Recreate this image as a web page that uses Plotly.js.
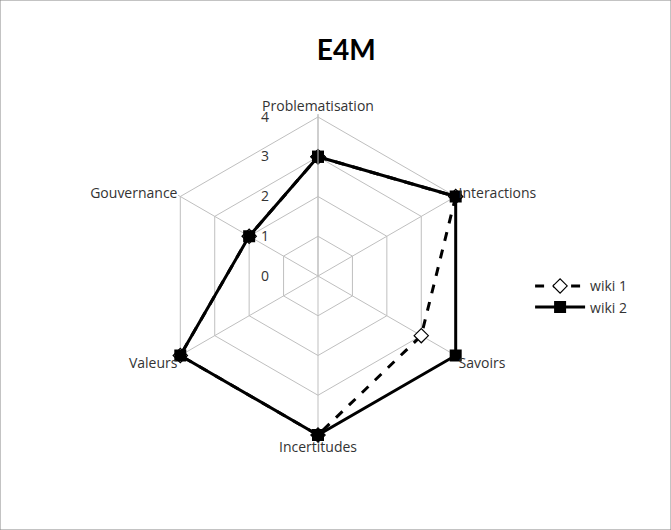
<!DOCTYPE html>
<html>
<head>
<meta charset="utf-8">
<script src="https://cdn.plot.ly/plotly-3.0.1.min.js"></script>
<style>
  html, body { margin: 0; padding: 0; background: #fff; }
  #chart { width: 671px; height: 530px; }
</style>
</head>
<body>
<div id="chart"></div>
<script>
// Axes of the radar, clockwise from the top
const categories = ['Problematisation', 'Interactions', 'Savoirs', 'Incertitudes', 'Valeurs', 'Gouvernance'];
const wiki1 = [3, 4, 3, 4, 4, 2];
const wiki2 = [3, 4, 4, 4, 4, 2];
const radialTicks = [0, 1, 2, 3, 4];

// close the polygons
const closeLoop = arr => arr.concat([arr[0]]);

const traces = [
    {
        type: 'scatterpolar',
        name: 'wiki 1',
        r: closeLoop(wiki1),
        theta: closeLoop(categories),
        mode: 'lines+markers',
        line: { color: '#000', width: 3, dash: 'dash' },
        marker: { symbol: 'diamond', size: 11, color: '#fff', line: { color: '#000', width: 1.2 } },
        cliponaxis: false
    },
    {
        type: 'scatterpolar',
        name: 'wiki 2',
        r: closeLoop(wiki2),
        theta: closeLoop(categories),
        mode: 'lines+markers',
        line: { color: '#000', width: 3 },
        marker: { symbol: 'square', size: 12, color: '#000' },
        cliponaxis: false
    }
];

// a little room beyond 4 so the thick lines on the outer ring are not clipped
const rMax = 4.07;
const R = 159 * rMax / 4;
const cx = 318, cy = 276;

// tick labels sit to the left of the vertical spoke, like Excel
const pad = '\u00a0'.repeat(12);

const layout = {
    width: 671,
    height: 530,
    margin: { l: 0, r: 0, t: 0, b: 0 },
    paper_bgcolor: '#fff',
    font: { family: '"Open Sans", sans-serif', size: 13, color: '#404040' },
    title: {
        text: '<b>E4M</b>',
        x: 0.516, xanchor: 'center',
        y: 0.905, yanchor: 'middle',
        font: { size: 28, color: '#000', family: 'Lato, "Open Sans", sans-serif' }
    },
    polar: {
        domain: { x: [(cx - R) / 671, (cx + R) / 671], y: [(530 - cy - R) / 530, (530 - cy + R) / 530] },
        gridshape: 'linear',
        bgcolor: '#fff',
        radialaxis: {
            range: [0, rMax],
            tickvals: radialTicks,
            ticktext: radialTicks.map(v => v + pad),
            angle: 90,
            tickangle: 90,
            side: 'counterclockwise',
            showline: true,
            linecolor: '#bfbfbf',
            linewidth: 1,
            gridcolor: '#bfbfbf',
            gridwidth: 1,
            ticks: '',
            tickfont: { size: 14, color: '#333' }
        },
        angularaxis: {
            rotation: 90,
            direction: 'clockwise',
            showline: false,
            gridcolor: '#bfbfbf',
            ticks: '',
            tickfont: { size: 14, color: '#333' }
        }
    },
    showlegend: true,
    legend: {
        x: 0.79, xanchor: 'left',
        y: 0.44, yanchor: 'middle',
        font: { size: 14, color: '#333' },
        itemwidth: 50,
        tracegroupgap: 4
    },
    shapes: [
        {
            type: 'rect', xref: 'paper', yref: 'paper',
            x0: 0, x1: 1, y0: 0, y1: 1,
            line: { color: '#878787', width: 1 }
        }
    ]
};

Plotly.newPlot('chart', traces, layout, { displayModeBar: false, staticPlot: true });
</script>
</body>
</html>
